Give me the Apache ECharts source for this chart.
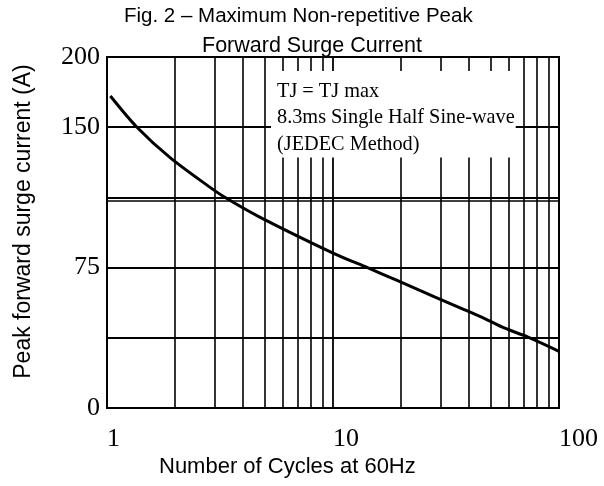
<!DOCTYPE html>
<html>
<head>
<meta charset="utf-8">
<script src="https://cdn.jsdelivr.net/npm/echarts@6/dist/echarts.min.js"></script>
<style>html,body{margin:0;padding:0;background:#fff}#c{width:604px;height:486px}</style>
</head>
<body>
<div id="c"></div>
<script>
// Curve (x: cycles at 60Hz, y: axis units 0..200)
var cycles  = [1.035, 1.357, 1.908, 2.818, 3.35, 4.74, 10, 14.3, 19.1, 28.3, 37.6, 47.4, 57.2, 72.5, 100];
var current = [177.8, 160,   142.5, 126.3, 119.8, 108.8, 88.3, 79.8, 72.8, 63.2, 56.4, 50.7, 45.6, 40.5, 32.3];

// Vertical grid lines (log decades)
var xGridValues = [2, 3, 4, 5, 6, 7, 8, 9, 20, 30, 40, 50, 60, 70, 80, 90];
// Y tick positions and their printed labels (as printed on the original)
var yTickValues = [0, 80, 160, 200];
var yTickLabels = ['0', '75', '150', '200'];
// Extra horizontal line (double line near 120)
var yExtraLines = [118.3];

var titleLine1 = 'Fig. 2 \u2013 Maximum Non-repetitive Peak';
var titleLine2 = 'Forward Surge Current';
var xTitle = 'Number of Cycles at 60Hz';
var yTitle = 'Peak forward surge current (A)';
var noteLines = ['TJ = TJ max', '8.3ms Single Half Sine-wave', '(JEDEC Method)'];

var chart = echarts.init(document.getElementById('c'), null, {renderer: 'canvas'});
var sans = 'Liberation Sans, Arial, sans-serif';
var serif = 'Liberation Serif, Times New Roman, serif';

var markData = xGridValues.map(function (v) { return {xAxis: v}; })
  .concat(yExtraLines.map(function (v) { return {yAxis: v}; }));

chart.setOption({
  animation: false,
  backgroundColor: '#fff',
  title: [
    {text: titleLine1, left: 124, top: 6, padding: 0,
     textStyle: {fontFamily: sans, fontSize: 20.5, fontWeight: 'normal', color: '#000'}},
    {text: titleLine2, left: 202, top: 35, padding: 0,
     textStyle: {fontFamily: sans, fontSize: 21.5, fontWeight: 'normal', color: '#000'}},
    {text: xTitle, left: 159, top: 456, padding: 0,
     textStyle: {fontFamily: sans, fontSize: 22, fontWeight: 'normal', color: '#000'}},
    {text: noteLines.join('\n'), left: 271, top: 71, padding: [7, 1, 0, 6],
     backgroundColor: '#fff', z: 10,
     textStyle: {fontFamily: serif, fontSize: 20.3, lineHeight: 26.5, fontWeight: 'normal', color: '#000'}}
  ],
  grid: {left: 107, right: 45, top: 57, bottom: 78, show: true, borderColor: '#000', borderWidth: 2, backgroundColor: 'transparent'},
  xAxis: {
    type: 'log', logBase: 10, min: 1, max: 100,
    axisLine: {show: true, lineStyle: {color: '#000', width: 2}},
    axisTick: {show: false},
    splitLine: {show: true, lineStyle: {color: '#000', width: 1.8}},
    axisLabel: {fontFamily: serif, fontSize: 26, color: '#000', align: 'left', margin: 18,
      formatter: function (v) { return String(v); }}
  },
  yAxis: {
    type: 'value', min: 0, max: 200, interval: 40,
    name: yTitle, nameLocation: 'middle', nameGap: 72,
    nameTextStyle: {fontFamily: sans, fontSize: 23, color: '#000', padding: [0, 0, 0, 22]},
    axisLine: {show: true, lineStyle: {color: '#000', width: 2}},
    axisTick: {show: false},
    splitLine: {show: true, lineStyle: {color: '#000', width: 1.8}},
    axisLabel: {fontFamily: serif, fontSize: 26, color: '#000', margin: 7,
      formatter: function (v) {
        var i = yTickValues.indexOf(v);
        return i >= 0 ? yTickLabels[i] : '';
      }}
  },
  series: [{
    type: 'line',
    data: cycles.map(function (c, i) { return [c, current[i]]; }),
    smooth: 0.3,
    showSymbol: false, symbol: 'none',
    lineStyle: {color: '#000', width: 3},
    z: 5,
    markLine: {
      silent: true, symbol: 'none', label: {show: false},
      lineStyle: {color: '#000', width: 1.6, type: 'solid'},
      data: markData, z: 1
    }
  }]
});
</script>
</body>
</html>
